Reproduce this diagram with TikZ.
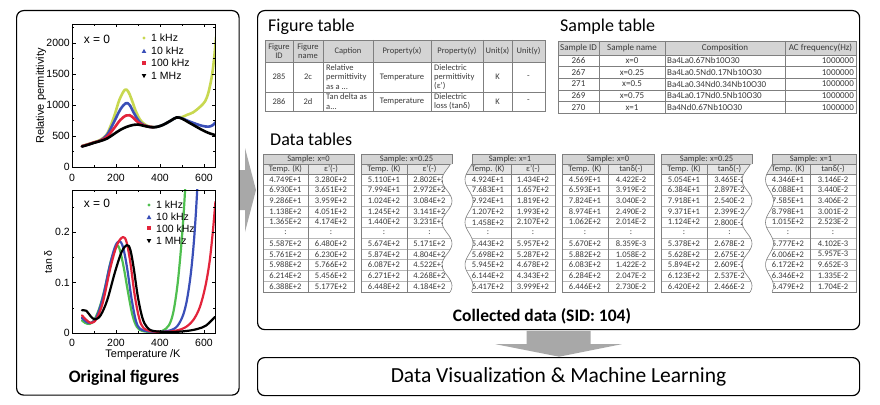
\documentclass[tikz,border=0pt]{standalone}
\usepackage{fontspec}
\setmainfont{Carlito}
\newfontfamily\plotfont{Liberation Sans}
\usetikzlibrary{calc}
\definecolor{tabline}{HTML}{7F7F7F}
\definecolor{rowline}{HTML}{B8B8B8}
\definecolor{tabhead}{HTML}{D4D4D4}
\definecolor{tabsub}{HTML}{E6E6E6}
\definecolor{tabtext}{HTML}{3A3A3A}
\definecolor{arrowgray}{HTML}{A8A8A8}
\definecolor{ylw}{HTML}{C8D850}
\definecolor{grn}{HTML}{4FBF4F}
\definecolor{blu}{HTML}{3A4FB8}
\definecolor{rd}{HTML}{E3243B}
\newcommand{\dtcontent}[6]{%
  \fill[tabhead] (#1,154) rectangle (#3,164);
  \fill[tabsub] (#1,164) rectangle (#3,174);
  \foreach \k in {1,...,10} \draw[rowline] (#1,{174+\k*10.7}) -- (#3,{174+\k*10.7});
  \draw[tabline] (#1,164) -- (#3,164) (#1,174) -- (#3,174) (#2,164) -- (#2,292);
  \node[dtext] (h#1) at ({(#1+#3)/2},159) {#4};
  \node[dtext] (ha#1) at ({(#1+#2)/2},169) {Temp. (K)};
  \node[dtext] (hb#1) at ({(#2+#3)/2},169) {#5};
  \foreach \a/\b [count=\n] in {#6} {
    \node[dtext] (a#1-\n) at ({(#1+#2)/2},{174+(\n-0.5)*10.7}) {\a};
    \node[dtext] (b#1-\n) at ({(#2+#3)/2},{174+(\n-0.5)*10.7}) {\b};
  }%
}
\begin{document}
\begin{tikzpicture}[x=1pt,y=-1pt,
  box/.style={draw=black, line width=1.2pt, rounded corners=7pt, fill=white, inner sep=0pt, anchor=north west},
  plt/.style={font=\plotfont\fontsize{10.5}{12}\selectfont, inner sep=0pt},
  dtext/.style={font=\fontsize{8.5}{9}\selectfont, text=tabtext, inner sep=0pt},
  ftext/.style={font=\fontsize{8.5}{9.3}\selectfont, text=tabtext, inner sep=0pt, align=center},
  ltext/.style={font=\fontsize{8.5}{9.3}\selectfont, text=tabtext, inner sep=0pt, align=left, anchor=west},
  stext/.style={font=\fontsize{9}{10}\selectfont, text=tabtext, inner sep=0pt},
  ttl/.style={font=\fontsize{18}{20}\selectfont, inner sep=0pt, anchor=base west},
  curve/.style={line width=2.6pt, line cap=round, line join=round},
  dcurve/.style={line width=2.2pt, line cap=round, line join=round}
]
\useasboundingbox (0,0) rectangle (880,404);
\fill[white] (0,0) rectangle (880,404);

% ---------- arrows (behind boxes) ----------
\coordinate (sa) at (239,190);
\fill[arrowgray] ($(sa)+(-4,-20)$) -- ($(sa)+(6,-20)$) -- ($(sa)+(6,-42)$) -- ($(sa)+(17,0)$) -- ($(sa)+(6,42)$) -- ($(sa)+(6,20)$) -- ($(sa)+(-4,20)$) -- cycle;

% ---------- boxes ----------
\node[box, minimum width=222.5pt, minimum height=384.5pt] (orig) at (16,10) {};
\node[box, minimum width=602pt, minimum height=319pt] (data) at (257,10) {};
\node[box, minimum width=602pt, minimum height=38pt] (ml) at (257,357) {};
\node[font=\fontsize{21.5}{24}\selectfont] (mltext) at (ml.center) {Data Visualization \& Machine Learning};

\fill[arrowgray] ($(data.south)+(-32,0.6)$) -- ($(data.south)+(32,0.6)$) -- ($(data.south)+(32,14)$) -- ($(data.south)+(63,14)$) -- ($(data.south)+(0.5,26.5)$) -- ($(data.south)+(-63,14)$) -- ($(data.south)+(-32,14)$) -- cycle;

% ---------- top plot ----------
\begin{scope}[shift={(72pt,-167pt)}, x=0.22pt, y=0.062pt]
  \clip (0,0) rectangle (650,2306);
  \draw[curve, ylw] plot[smooth, tension=0.55] coordinates {(45,340) (70,365) (100,400) (130,440) (160,540) (190,800) (215,1080) (240,1245) (255,1220) (270,1100) (290,900) (310,760) (330,690) (350,655) (370,642) (395,655) (420,690) (450,750) (476,800) (500,805) (522,840) (550,880) (582,970) (605,1060) (620,1200) (635,1450) (645,1720) (655,2100)};
  \draw[curve, blu] plot[smooth, tension=0.55] coordinates {(45,335) (70,360) (100,395) (130,430) (160,520) (190,720) (220,930) (245,1030) (262,1000) (280,880) (300,760) (320,690) (345,655) (370,642) (395,655) (420,690) (450,750) (476,800) (500,785) (530,740) (560,700) (590,665) (620,650) (640,675) (655,730)};
  \draw[curve, rd] plot[smooth, tension=0.55] coordinates {(45,335) (70,360) (100,395) (130,425) (160,490) (190,620) (220,760) (245,830) (262,835) (280,790) (300,720) (320,680) (345,652) (370,642)};
  \draw[curve, black] plot[smooth, tension=0.55] coordinates {(45,330) (70,355) (100,390) (130,420) (160,460) (190,530) (220,600) (250,650) (280,680) (300,685) (320,670) (345,650) (370,640) (395,655) (420,690) (450,750) (476,800) (500,780) (530,720) (560,660) (590,600) (620,550) (655,510)};
\end{scope}
\draw[line width=0.6pt] (72,24) rectangle (215,167);
\foreach \T in {0,200,400,600} {
  \draw[line width=0.5pt] ({72+0.22*\T},167) -- ++(0,-3.5) ({72+0.22*\T},24) -- ++(0,3.5);
  \node[plt] (tx\T) at ({72+0.22*\T},178) {\T};
}
\foreach \T in {100,300,500} \draw[line width=0.5pt] ({72+0.22*\T},167) -- ++(0,-2) ({72+0.22*\T},24) -- ++(0,2);
\foreach \v in {0,500,1000,1500,2000} {
  \draw[line width=0.5pt] (72,{167-0.062*\v}) -- ++(3.5,0) (215,{167-0.062*\v}) -- ++(-3.5,0);
  \node[plt, anchor=east] (ty\v) at (70,{167-0.062*\v}) {\v};
}
\foreach \v in {250,750,1250,1750,2250} \draw[line width=0.5pt] (72,{167-0.062*\v}) -- ++(2,0) (215,{167-0.062*\v}) -- ++(-2,0);
\node[plt, font=\plotfont\fontsize{11}{12}\selectfont, rotate=90] (tyl) at (41,96) {Relative permittivity};
\node[plt, font=\plotfont\fontsize{12}{14}\selectfont] (tx0l) at (97,39) {x = 0};
\fill[ylw] (144,38) circle (1.7);
\fill[blu] (144,48.8) -- (146.3,53) -- (141.7,53) -- cycle;
\fill[rd] (142.3,61.3) rectangle (145.7,64.7);
\fill[black] (141.7,74) -- (146.3,74) -- (144,78.2) -- cycle;
\node[plt, anchor=west] (tl1) at (151,38) {1 kHz};
\node[plt, anchor=west] (tl2) at (151,51) {10 kHz};
\node[plt, anchor=west] (tl3) at (151,63) {100 kHz};
\node[plt, anchor=west] (tl4) at (151,76) {1 MHz};

% ---------- bottom plot ----------
\begin{scope}[shift={(72pt,-333pt)}, x=0.22pt, y=505pt]
  \clip (0,0) rectangle (650,0.2832);
  \draw[dcurve, grn] plot[smooth, tension=0.55] coordinates {(45,0.025) (60,0.02) (80,0.018) (100,0.025) (125,0.05) (150,0.09) (175,0.14) (200,0.17) (215,0.168) (235,0.13) (255,0.08) (275,0.035) (295,0.012) (320,0.004) (370,0.002) (410,0.004) (440,0.015) (460,0.04) (478,0.09) (492,0.15) (505,0.22) (515,0.29)};
  \draw[dcurve, blu] plot[smooth, tension=0.55] coordinates {(45,0.03) (65,0.022) (85,0.02) (110,0.03) (140,0.07) (170,0.13) (195,0.17) (215,0.182) (232,0.17) (250,0.13) (270,0.07) (290,0.025) (310,0.008) (350,0.003) (420,0.003) (470,0.01) (500,0.03) (520,0.06) (538,0.11) (552,0.17) (562,0.23) (570,0.29)};
  \draw[dcurve, rd] plot[smooth, tension=0.55] coordinates {(45,0.035) (65,0.026) (85,0.02) (110,0.027) (140,0.06) (175,0.13) (205,0.175) (232,0.19) (248,0.18) (265,0.14) (285,0.075) (305,0.03) (325,0.01) (370,0.003) (450,0.003) (510,0.01) (550,0.025) (580,0.05) (605,0.09) (625,0.14) (640,0.2) (652,0.26)};
  \draw[dcurve, black] plot[smooth, tension=0.55] coordinates {(45,0.045) (65,0.044) (85,0.033) (105,0.027) (130,0.035) (160,0.065) (195,0.12) (225,0.16) (250,0.174) (265,0.165) (280,0.13) (300,0.07) (320,0.03) (340,0.012) (370,0.004) (450,0.002) (520,0.004) (570,0.008) (610,0.015) (650,0.032)};
\end{scope}
\draw[line width=0.6pt] (72,190) rectangle (215,333);
\foreach \T in {0,200,400,600} {
  \draw[line width=0.5pt] ({72+0.22*\T},333) -- ++(0,-3.5) ({72+0.22*\T},190) -- ++(0,3.5);
  \node[plt] (bx\T) at ({72+0.22*\T},343) {\T};
}
\foreach \T in {100,300,500} \draw[line width=0.5pt] ({72+0.22*\T},333) -- ++(0,-2) ({72+0.22*\T},190) -- ++(0,2);
\foreach \v/\lab in {0/0,1/0.1,2/0.2} {
  \draw[line width=0.5pt] (72,{333-50.5*\v}) -- ++(3.5,0) (215,{333-50.5*\v}) -- ++(-3.5,0);
  \node[plt, anchor=east] (by\v) at (70,{333-50.5*\v}) {\lab};
}
\foreach \v in {0.5,1.5,2.5} \draw[line width=0.5pt] (72,{333-50.5*\v}) -- ++(2,0) (215,{333-50.5*\v}) -- ++(-2,0);
\node[plt, rotate=90] (byl) at (48,262) {tan δ};
\node[plt, font=\plotfont\fontsize{11}{12}\selectfont] (bxl) at (143,355) {Temperature /K};
\node[plt, font=\plotfont\fontsize{12}{14}\selectfont] (bx0l) at (97,203) {x = 0};
\fill[grn] (149,205) circle (1.7);
\fill[blu] (149,214.8) -- (151.3,219) -- (146.7,219) -- cycle;
\fill[rd] (147.3,226.3) rectangle (150.7,229.7);
\fill[black] (146.7,239) -- (151.3,239) -- (149,243.2) -- cycle;
\node[plt, anchor=west] (bl1) at (156,205) {1 kHz};
\node[plt, anchor=west] (bl2) at (156,217) {10 kHz};
\node[plt, anchor=west] (bl3) at (156,229) {100 kHz};
\node[plt, anchor=west] (bl4) at (156,241) {1 MHz};
\node[font=\bfseries\fontsize{17.5}{20}\selectfont] (ofig) at (124,378) {Original figures};

% ---------- figure table ----------
\node[ttl] (ftitle) at (268,32) {Figure table};
\fill[tabhead] (265,40) rectangle (545,62);
\foreach \x in {293,323,373,431,483,512} \draw[tabline, line width=0.5pt] (\x,40) -- (\x,111);
\foreach \y in {62,92} \draw[tabline, line width=0.5pt] (265,\y) -- (545,\y);
\draw[tabline, line width=0.6pt] (265,40) rectangle (545,111);
\node[ftext] (fh1) at (279,51) {Figure\\ID};
\node[ftext] (fh2) at (308,51) {Figure\\name};
\node[ftext] (fh3) at (348,51) {Caption};
\node[ftext] (fh4) at (402,51) {Property(x)};
\node[ftext] (fh5) at (457,51) {Property(y)};
\node[ftext] (fh6) at (497.5,51) {Unit(x)};
\node[ftext] (fh7) at (528.5,51) {Unit(y)};
\node[ftext] (f11) at (279,77) {285};
\node[ftext] (f12) at (308,77) {2c};
\node[ltext] (f13) at (326,77) {Relative\\permittivity\\as a ...};
\node[ftext] (f14) at (402,77) {Temperature};
\node[ltext] (f15) at (434,77) {Dielectric\\permittivity\\(ε')};
\node[ftext] (f16) at (497.5,77) {K};
\node[ftext] (f17) at (528.5,77) {-};
\node[ftext] (f21) at (279,101.5) {286};
\node[ftext] (f22) at (308,101.5) {2d};
\node[ltext] (f23) at (326,101.5) {Tan delta as\\a...};
\node[ftext] (f24) at (402,101.5) {Temperature};
\node[ltext] (f25) at (434,101.5) {Dielectric\\loss (tanδ)};
\node[ftext] (f26) at (497.5,101.5) {K};
\node[ftext] (f27) at (528.5,101.5) {-};

% ---------- sample table ----------
\node[ttl] (stitle) at (560,32) {Sample table};
\fill[tabhead] (558,41) rectangle (856,55);
\foreach \x in {599,665,785} \draw[tabline, line width=0.5pt] (\x,41) -- (\x,113);
\foreach \y in {55,66.6,78.2,89.8,101.4} \draw[tabline, line width=0.5pt] (558,\y) -- (856,\y);
\draw[tabline, line width=0.6pt] (558,41) rectangle (856,113);
\node[stext] (sh1) at (578.5,48) {Sample ID};
\node[stext] (sh2) at (632,48) {Sample name};
\node[stext] (sh3) at (725,48) {Composition};
\node[stext] (sh4) at (820.5,48) {AC frequency(Hz)};
\foreach \id/\nm/\comp [count=\r] in {266/x=0/Ba4La0.67Nb10O30, 267/x=0.25/Ba4La0.5Nd0.17Nb10O30, 271/x=0.5/Ba4La0.34Nd0.34Nb10O30, 269/x=0.75/Ba4La0.17Nd0.5Nb10O30, 270/x=1/Ba4Nd0.67Nb10O30} {
  \node[stext] (sid\r) at (578.5,{55+(\r-0.5)*11.6}) {\id};
  \node[stext] (snm\r) at (632,{55+(\r-0.5)*11.6}) {\nm};
  \node[stext, anchor=west] (scp\r) at (667,{55+(\r-0.5)*11.6}) {\comp};
  \node[stext, anchor=east] (sac\r) at (854,{55+(\r-0.5)*11.6}) {1000000};
}

% ---------- data tables ----------
\node[ttl] (dtitle) at (270,145) {Data tables};
% table 1
\dtcontent{263}{308}{354}{Sample: x=0}{ε'(-)}{4.749E+1/3.280E+2, 6.930E+1/3.651E+2, 9.286E+1/3.959E+2, 1.138E+2/4.051E+2, 1.365E+2/4.174E+2, :/:, 5.587E+2/6.480E+2, 5.761E+2/6.230E+2, 5.988E+2/5.766E+2, 6.214E+2/5.456E+2, 6.388E+2/5.177E+2}
\draw[tabline, line width=0.6pt] (263,154) rectangle (354,292);
% table 2 (wavy right)
\begin{scope}
  \clip (361,150) -- (452.3,150) -- (452.3,164) -- plot[domain=164:292, samples=60, variable=\t] ({447+5*cos(8.4706*(\t-201))},\t) -- (361,292) -- cycle;
  \dtcontent{361}{407}{452}{Sample: x=0.25}{ε'(-)}{5.110E+1/2.802E+2, 7.994E+1/2.972E+2, 1.024E+2/3.084E+2, 1.245E+2/3.141E+2, 1.440E+2/3.231E+2, :/:, 5.674E+2/5.171E+2, 5.874E+2/4.804E+2, 6.087E+2/4.522E+2, 6.271E+2/4.268E+2, 6.448E+2/4.184E+2}
\end{scope}
\draw[tabline, line width=0.6pt] (452,164) -- (452,154) -- (361,154) -- (361,292) -- ({447+5*cos(8.4706*91)},292);
\draw[tabline, line width=0.6pt] plot[domain=164:292, samples=60, variable=\t] ({447+5*cos(8.4706*(\t-201))},\t);
% table 3 (wavy left)
\begin{scope}
  \clip (472,150) -- (556,150) -- (556,292) -- plot[domain=0:128, samples=60, variable=\t] ({469+4*cos(8.4706*(91-\t))},{292-\t}) -- (472,164) -- cycle;
  \dtcontent{465}{511}{555}{Sample: x=1}{ε'(-)}{4.924E+1/1.434E+2, 7.683E+1/1.657E+2, 9.924E+1/1.819E+2, 1.207E+2/1.993E+2, 1.458E+2/2.107E+2, :/:, 5.443E+2/5.957E+2, 5.698E+2/5.287E+2, 5.945E+2/4.678E+2, 6.144E+2/4.343E+2, 6.417E+2/3.999E+2}
\end{scope}
\draw[tabline, line width=0.6pt] (472,164) -- (472,154) -- (555,154) -- (555,292) -- ({469+4*cos(8.4706*91)},292);
\draw[tabline, line width=0.6pt] plot[domain=164:292, samples=60, variable=\t] ({469+4*cos(8.4706*(\t-201))},\t);
% table 4
\dtcontent{562}{608}{654}{Sample: x=0}{tanδ(-)}{4.569E+1/4.422E-2, 6.593E+1/3.919E-2, 7.824E+1/3.040E-2, 8.974E+1/2.490E-2, 1.062E+2/2.014E-2, :/:, 5.670E+2/8.359E-3, 5.882E+2/1.058E-2, 6.083E+2/1.422E-2, 6.284E+2/2.047E-2, 6.446E+2/2.730E-2}
\draw[tabline, line width=0.6pt] (562,154) rectangle (654,292);
% table 5 (wavy right)
\begin{scope}
  \clip (661,150) -- (752.3,150) -- (752.3,164) -- plot[domain=164:292, samples=60, variable=\t] ({747+5*cos(8.4706*(\t-201))},\t) -- (661,292) -- cycle;
  \dtcontent{661}{707}{752}{Sample: x=0.25}{tanδ(-)}{5.054E+1/3.465E-2, 6.384E+1/2.897E-2, 7.918E+1/2.540E-2, 9.371E+1/2.399E-2, 1.124E+2/2.800E-2, :/:, 5.378E+2/2.678E-2, 5.628E+2/2.675E-2, 5.894E+2/2.609E-2, 6.123E+2/2.537E-2, 6.420E+2/2.466E-2}
\end{scope}
\draw[tabline, line width=0.6pt] (752,164) -- (752,154) -- (661,154) -- (661,292) -- ({747+5*cos(8.4706*91)},292);
\draw[tabline, line width=0.6pt] plot[domain=164:292, samples=60, variable=\t] ({747+5*cos(8.4706*(\t-201))},\t);
% table 6 (wavy left)
\begin{scope}
  \clip (772,150) -- (857,150) -- (857,292) -- plot[domain=0:128, samples=60, variable=\t] ({769.5+4*cos(8.4706*(91-\t))},{292-\t}) -- (772,164) -- cycle;
  \dtcontent{766}{810}{856}{Sample: x=1}{tanδ(-)}{4.346E+1/3.146E-2, 6.088E+1/3.440E-2, 7.585E+1/3.406E-2, 8.798E+1/3.001E-2, 1.015E+2/2.523E-2, :/:, 5.777E+2/4.102E-3, 6.006E+2/5.957E-3, 6.172E+2/9.652E-3, 6.346E+2/1.335E-2, 6.479E+2/1.704E-2}
\end{scope}
\draw[tabline, line width=0.6pt] (772,164) -- (772,154) -- (856,154) -- (856,292) -- ({769.5+4*cos(8.4706*91)},292);
\draw[tabline, line width=0.6pt] plot[domain=164:292, samples=60, variable=\t] ({769.5+4*cos(8.4706*(\t-201))},\t);

\node[font=\bfseries\fontsize{17.5}{20}\selectfont] (coll) at (542,316) {Collected data (SID: 104)};
\end{tikzpicture}
\end{document}
